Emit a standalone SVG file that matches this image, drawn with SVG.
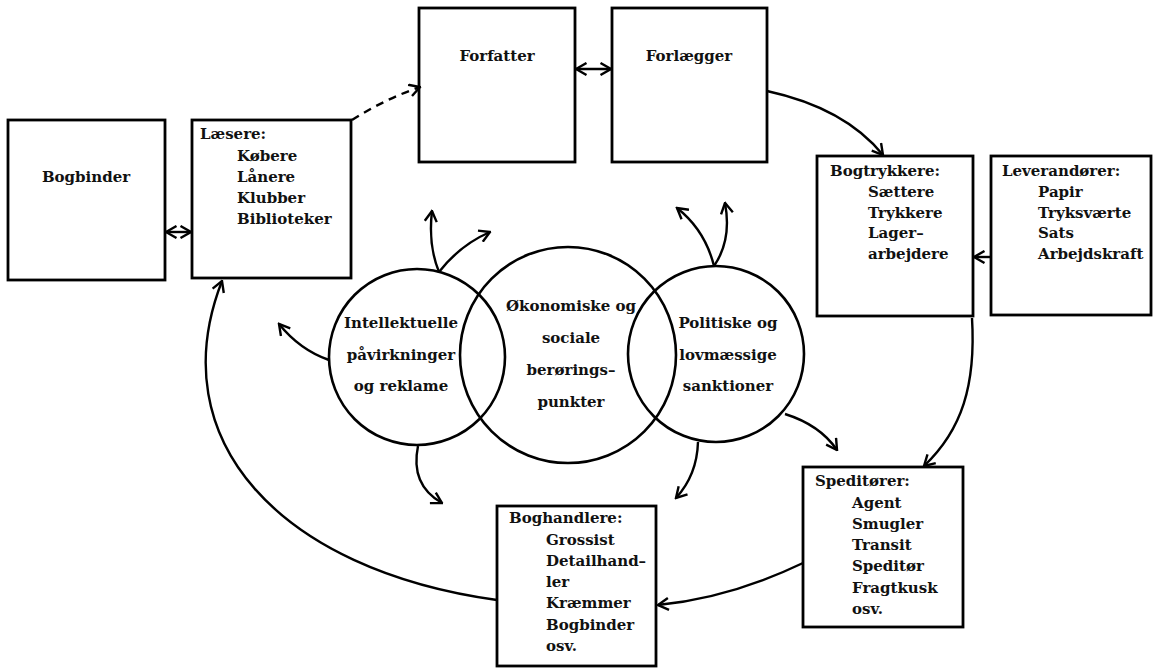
<svg xmlns="http://www.w3.org/2000/svg" width="1157" height="668" viewBox="0 0 1157 668">
<defs>
<marker id="ah" viewBox="0 0 14 14" refX="12.5" refY="7" markerWidth="14" markerHeight="14" markerUnits="userSpaceOnUse" orient="auto-start-reverse">
<path d="M2,1 L12.5,7 L2,13" fill="none" stroke="#000" stroke-width="2.4"/>
</marker>
<style>
.box{fill:#fff;stroke:#000;stroke-width:2.8}
.circ{fill:none;stroke:#000;stroke-width:2.6}
.t{font-family:"DejaVu Serif","Liberation Serif",serif;font-weight:bold;font-size:15px;fill:#111}
.c{text-anchor:middle}
.con{fill:none;stroke:#000;stroke-width:2.4}
</style>
</defs>
<rect width="1157" height="668" fill="#fff"/>

<g id="bogbinder">
<rect class="box" x="8" y="120" width="157" height="160"/>
<text class="t c" x="86" y="182">Bogbinder</text>
</g>

<g id="laesere">
<rect class="box" x="192" y="120" width="159" height="158"/>
<text class="t" x="200" y="139">Læsere:</text>
<text class="t" x="237" y="161">Købere</text>
<text class="t" x="237" y="182">Lånere</text>
<text class="t" x="237" y="203">Klubber</text>
<text class="t" x="237" y="224">Biblioteker</text>
</g>

<g id="forfatter">
<rect class="box" x="419" y="8" width="156" height="154"/>
<text class="t c" x="497" y="61">Forfatter</text>
</g>

<g id="forlaegger">
<rect class="box" x="612" y="8" width="155" height="154"/>
<text class="t c" x="689" y="61">Forlægger</text>
</g>

<g id="bogtrykkere">
<rect class="box" x="817" y="156" width="156" height="160"/>
<text class="t" x="830" y="176">Bogtrykkere:</text>
<text class="t" x="868" y="197">Sættere</text>
<text class="t" x="868" y="218">Trykkere</text>
<text class="t" x="868" y="238">Lager–</text>
<text class="t" x="868" y="259">arbejdere</text>
</g>

<g id="leverandoerer">
<rect class="box" x="991" y="156" width="160" height="159"/>
<text class="t" x="1002" y="176">Leverandører:</text>
<text class="t" x="1038" y="197">Papir</text>
<text class="t" x="1038" y="218">Tryksværte</text>
<text class="t" x="1038" y="238">Sats</text>
<text class="t" x="1038" y="259">Arbejdskraft</text>
</g>

<g id="speditoerer">
<rect class="box" x="803" y="467" width="160" height="160"/>
<text class="t" x="815" y="486">Speditører:</text>
<text class="t" x="852" y="508">Agent</text>
<text class="t" x="852" y="529">Smugler</text>
<text class="t" x="852" y="550">Transit</text>
<text class="t" x="852" y="571">Speditør</text>
<text class="t" x="852" y="593">Fragtkusk</text>
<text class="t" x="852" y="614">osv.</text>
</g>

<g id="boghandlere">
<rect class="box" x="497" y="506" width="159" height="160"/>
<text class="t" x="509" y="523">Boghandlere:</text>
<text class="t" x="546" y="545">Grossist</text>
<text class="t" x="546" y="566">Detailhand–</text>
<text class="t" x="546" y="587">ler</text>
<text class="t" x="546" y="608">Kræmmer</text>
<text class="t" x="546" y="630">Bogbinder</text>
<text class="t" x="546" y="651">osv.</text>
</g>

<g id="intellektuelle">
<circle class="circ" cx="417" cy="357" r="88"/>
<text class="t c" x="401" y="328">Intellektuelle</text>
<text class="t c" x="401" y="360">påvirkninger</text>
<text class="t c" x="401" y="391">og reklame</text>
</g>

<g id="oekonomiske">
<circle class="circ" cx="568" cy="355" r="108"/>
<text class="t c" x="571" y="311">Økonomiske og</text>
<text class="t c" x="571" y="343">sociale</text>
<text class="t c" x="571" y="375">berørings–</text>
<text class="t c" x="571" y="407">punkter</text>
</g>

<g id="politiske">
<circle class="circ" cx="716" cy="354" r="88"/>
<text class="t c" x="728" y="328">Politiske og</text>
<text class="t c" x="728" y="360">lovmæssige</text>
<text class="t c" x="728" y="391">sanktioner</text>
</g>

<g id="connectors">
<path class="con" d="M166,232 L191,232" marker-start="url(#ah)" marker-end="url(#ah)"/>
<path class="con" d="M576,69 L611,69" marker-start="url(#ah)" marker-end="url(#ah)"/>
<path class="con" d="M352,120 Q385,99 420,87" stroke-dasharray="8,6" marker-end="url(#ah)"/>
<path class="con" d="M767,91 Q845,108 883,155" marker-end="url(#ah)"/>
<path class="con" d="M990,257 L974,257" marker-end="url(#ah)"/>
<path class="con" d="M972,318 C976,385 962,430 924,466" marker-end="url(#ah)"/>
<path class="con" d="M803,563 Q730,598 658,605" marker-end="url(#ah)"/>
<path class="con" d="M497,600 C280,570 160,440 222,281" marker-end="url(#ah)"/>
<path class="con" d="M439,272 Q428,245 432,211" marker-end="url(#ah)"/>
<path class="con" d="M439,272 Q460,245 490,232" marker-end="url(#ah)"/>
<path class="con" d="M329,360 Q300,350 279,324" marker-end="url(#ah)"/>
<path class="con" d="M418,446 Q410,485 442,503" marker-end="url(#ah)"/>
<path class="con" d="M714,266 Q705,230 677,208" marker-end="url(#ah)"/>
<path class="con" d="M714,266 Q732,240 725,203" marker-end="url(#ah)"/>
<path class="con" d="M698,442 Q697,475 676,498" marker-end="url(#ah)"/>
<path class="con" d="M785,414 Q820,425 837,450" marker-end="url(#ah)"/>
</g>
</svg>
